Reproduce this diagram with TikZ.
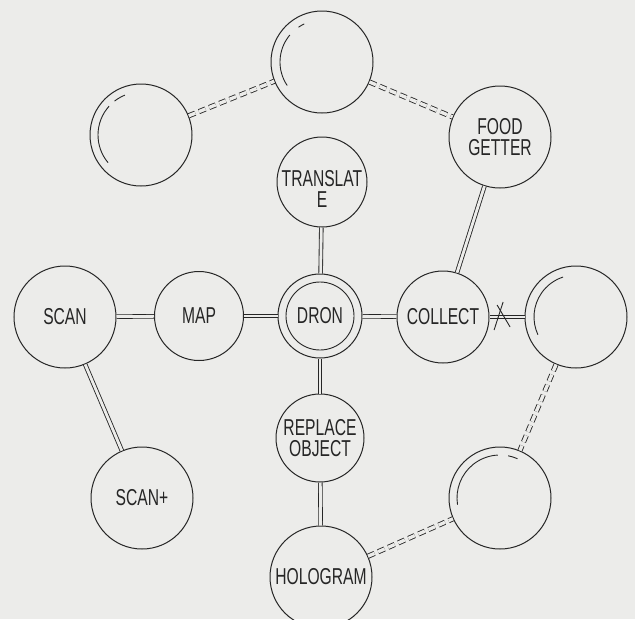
\documentclass[tikz,border=0pt]{standalone}
\usepackage{fontspec}
\setmainfont{Liberation Sans}[FakeStretch=0.68]
\usepackage{tikz}

\definecolor{paper}{HTML}{ECECEA}
\definecolor{ink}{HTML}{262626}

\newcommand{\stencil}{\fontsize{23}{21}\selectfont}

\tikzset{
  bubble/.style={draw=ink, circle, line width=1pt, minimum size=102pt,
    inner sep=0pt, align=center, text=ink, font=\stencil},
  link/.style={draw=ink, line width=0.85pt, double=paper, double distance=2.8pt},
  weak/.style={link, double distance=3.4pt, dash pattern=on 7pt off 4pt},
  gleam/.style={draw=ink, line width=0.9pt},
}

\begin{document}
\begin{tikzpicture}[x=1pt, y=-1pt]
    \fill [paper]     (0, 0) rectangle (635, 619);
    \useasboundingbox (0, 0) rectangle (635, 619);
    \clip             (0, 0) rectangle (635, 619);
    % upper ring
    \node [bubble] (tl)   at (141, 135) {};
    \node [bubble] (top)  at (322, 62)  {};
    \node [bubble] (food) at (500, 137) {FOOD\\GETTER};
    % middle row
    \node [bubble, minimum size=90pt,
           label={[inner sep=0pt, align=center, text=ink, font=\stencil,
                   yshift=-7pt]center:{TRANSLAT\\E}}] (transl) at (322, 182) {};
    \node [bubble]                    (scan)    at (65, 317)  {SCAN};
    \node [bubble, minimum size=89pt] (map)     at (199, 316) {MAP};
    \node [bubble, minimum size=84pt] (dron)    at (320, 316) {DRON};
    \draw [gleam]     (dron.center) circle [radius=34pt];
    \node [bubble, minimum size=92pt] (collect) at (443, 317) {COLLECT};
    \node [bubble]                    (far)     at (576, 317) {};
    % lower part
    \node [bubble, minimum size=88pt] (replace) at (320, 438) {REPLACE\\OBJECT};
    \node [bubble]                    (scanp)   at (142, 498) {SCAN+};
    \node [bubble]                    (low)     at (500, 498) {};
    \node [bubble]                    (holo)    at (321, 577) {HOLOGRAM};
    % links
    \draw [weak]  (tl) -- (top);
    \draw [weak]  (top) -- (food);
    \draw [link]  (food) -- (collect);
    \draw [link]  (transl) -- (dron);
    \draw [link]  (scan) -- (map);
    \draw [link]  (map) -- (dron);
    \draw [link]  (dron) -- (collect);
    \draw [link]  (collect) -- coordinate [pos=0.36] (cut) (far);
    \draw [link]  (dron) -- (replace);
    \draw [link]  (replace) -- (holo);
    \draw [link]  (scan) -- (scanp);
    \draw [weak]  (far) -- (low);
    \draw [weak]  (holo) -- (low);
    % broken link
    \draw [gleam] ([shift={(1, -15)}]cut) -- ([shift={(-8, 13)}]cut);
    \draw [gleam] ([shift={(-5, -12)}]cut) -- ([shift={(8, 10)}]cut);
    % gleams on the empty ones
    \draw [gleam] (tl.center) ++(220:43pt) arc [start angle=220, end angle=138, radius=43pt];
    \draw [gleam] (tl.center) ++(128:43pt) arc [start angle=128, end angle=112, radius=43pt];
    \draw [gleam] (top.center) ++(214:42pt) arc [start angle=214, end angle=140, radius=42pt];
    \draw [gleam] (top.center) ++(124:42pt) arc [start angle=124, end angle=115, radius=42pt];
    \draw [gleam] (far.center) ++(205:42pt) arc [start angle=205, end angle=108, radius=42pt];
    \draw [gleam] (low.center) ++(189:43pt) arc [start angle=189, end angle=93, radius=43pt];
    \draw [gleam] (low.center) ++(79:43pt) arc [start angle=79, end angle=66, radius=43pt];
\end{tikzpicture}
\end{document}
